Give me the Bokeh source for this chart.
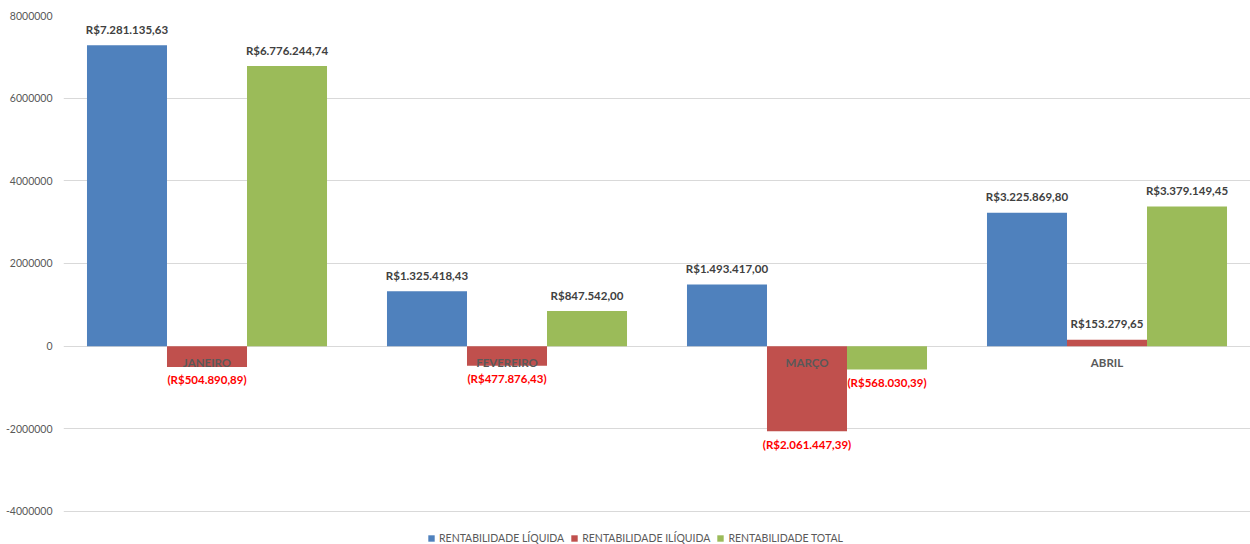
from bokeh.plotting import figure
from bokeh.models import ColumnDataSource, FactorRange, Range1d, FixedTicker, NumeralTickFormatter, Legend, LegendItem
from bokeh.transform import dodge
from bokeh.core.properties import value
from bokeh.embed import file_html
from bokeh.resources import INLINE

months = ["JANEIRO", "FEVEREIRO", "MARÇO", "ABRIL"]
liquida = [7281135.63, 1325418.43, 1493417.00, 3225869.80]
iliquida = [-504890.89, -477876.43, -2061447.39, 153279.65]
total = [6776244.74, 847542.00, -568030.39, 3379149.45]
series_names = ["RENTABILIDADE LÍQUIDA", "RENTABILIDADE ILÍQUIDA", "RENTABILIDADE TOTAL"]
y_ticks = [-4000000, -2000000, 0, 2000000, 4000000, 6000000, 8000000]

colors = ["#4F81BD", "#C0504D", "#9BBB59"]
FONT = "Lato"


def brl(v):
    s = f"{abs(v):,.2f}".replace(",", "X").replace(".", ",").replace("X", ".")
    return f"(R${s})" if v < 0 else f"R${s}"


p = figure(x_range=FactorRange(*months, range_padding=-0.010833),
           y_range=Range1d(-4800000, 8000000),
           width=1250, height=544, output_backend="svg", toolbar_location=None,
           min_border_left=63, min_border_right=0, min_border_top=15, min_border_bottom=0)
p.outline_line_color = None
p.xaxis.visible = False
p.xgrid.grid_line_color = None
p.ygrid.grid_line_color = "#D9D9D9"
p.ygrid.grid_line_width = 1
p.yaxis.ticker = FixedTicker(ticks=y_ticks)
p.yaxis.formatter = NumeralTickFormatter(format="0")
p.yaxis.axis_line_color = None
p.yaxis.major_tick_line_color = None
p.yaxis.minor_tick_line_color = None
p.yaxis.major_tick_out = 0
p.yaxis.major_tick_in = 0
p.yaxis.major_label_text_color = "#595959"
p.yaxis.major_label_text_font = FONT
p.yaxis.major_label_text_font_size = "10.5px"
p.yaxis.major_label_standoff = 11

offsets = [-0.2667, 0.0, 0.2667]
all_series = [liquida, iliquida, total]
items = []
for vals, off, col, name in zip(all_series, offsets, colors, series_names):
    src = ColumnDataSource(dict(
        m=months, v=vals,
        lbl=[brl(v) for v in vals],
        yo=[13 if v < 0 else -16 for v in vals],
        tc=["#FF0000" if v < 0 else "#404040" for v in vals],
    ))
    r = p.vbar(x=dodge("m", off, range=p.x_range), top="v", bottom=0, width=0.2667,
               source=src, fill_color=col, line_color=None)
    items.append(LegendItem(label=name, renderers=[r]))
    p.text(x=dodge("m", off, range=p.x_range), y="v", text="lbl", source=src,
           y_offset="yo", text_color="tc", text_align="center", text_baseline="middle",
           text_font=value(FONT), text_font_size="11.5px", text_font_style="bold")

cat_src = ColumnDataSource(dict(m=months, z=[0] * len(months)))
p.text(x="m", y="z", text="m", source=cat_src, y_offset=16, text_color="#595959",
       text_align="center", text_baseline="middle", text_font=value(FONT),
       text_font_size="11.5px", text_font_style="bold")

legend = Legend(items=items, orientation="horizontal", location=(364, 0),
                label_text_font=FONT, label_text_font_size="10.5px", label_text_color="#595959",
                glyph_width=8, glyph_height=8, label_standoff=4, spacing=6, padding=2,
                margin=0, border_line_color=None, background_fill_alpha=0,
                label_height=10)
p.add_layout(legend)

open("out.html", "w").write(file_html(p, INLINE))
